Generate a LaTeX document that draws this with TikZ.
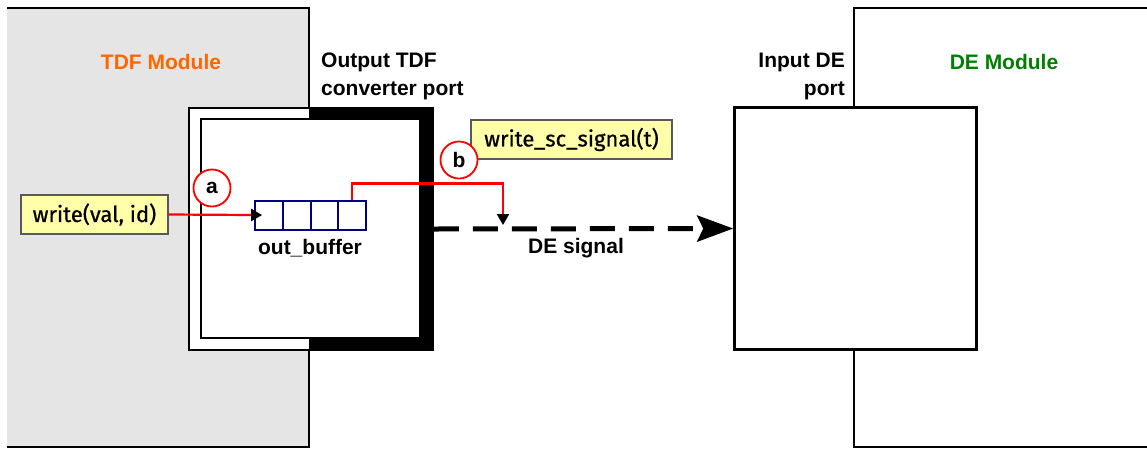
\documentclass[tikz,border=0pt]{standalone}
\usepackage{fontspec}
\setmainfont{Liberation Sans}
\newfontfamily\callfont[FakeBold=0.8]{Fira Sans}
\usetikzlibrary{arrows.meta,calc}
\definecolor{tdforange}{RGB}{255,102,0}
\definecolor{degreen}{RGB}{0,128,0}
\definecolor{bufblue}{RGB}{0,0,128}
\definecolor{callyellow}{RGB}{255,255,170}
\tikzset{
  ctrl/.style={draw=red, line width=2.2pt, -{Triangle[length=11pt,width=12pt,color=black]}},
  callbox/.style={draw=gray!70!black, fill=callyellow, line width=1.2pt, inner sep=0pt,
    font=\callfont\fontsize{22}{24}\selectfont},
  tag/.style={circle, draw=red, fill=white, line width=1.8pt, minimum size=37pt,
    inner sep=0pt, font=\bfseries\fontsize{21}{24}\selectfont},
  cell/.style={draw=bufblue, line width=2pt, minimum width=27.75pt, minimum height=29pt,
    inner sep=0pt},
  txt/.style={font=\bfseries\fontsize{21}{28}\selectfont, inner sep=0pt},
  sig/.style={line width=5pt, dash pattern=on 25pt off 14pt,
    -{Stealth[length=36pt,width=26pt,inset=6pt]}}
}

\begin{document}
\begin{tikzpicture}[x=1pt,y=-1pt]
  \useasboundingbox (0,0) rectangle (1147,448);
  \clip (0,0) rectangle (1147,448);
  % modules
  \node[fill=gray!20, minimum width=302pt, minimum height=439pt, inner sep=0pt]
    (tdfmod) at (158,227.5) {};
  \draw[line width=2.5pt] (tdfmod.north west) -| (tdfmod.south east) -- (tdfmod.south west);
  \node[draw, line width=2.5pt, minimum width=400pt, minimum height=439pt, inner sep=0pt]
    (demod) at (1054,227.5) {};
  \node[txt, text=tdforange] (tdfname) at (161,62) {TDF Module};
  \node[txt, text=degreen] (dename) at (1004,62) {DE Module};
  % output converter port: thin on the inside, thick black outside
  \node[draw, fill=white, line width=1.5pt, minimum width=244pt, minimum height=242pt]
    (outport) at (311,229) {};
  \fill (outport.north -| tdfmod.east) rectangle (outport.south east);
  \node[draw, fill=white, line width=1.5pt, minimum width=219pt, minimum height=219pt]
    (outin) at (310.5,228.5) {};
  \node[txt, anchor=west, align=left] (outname) at (321,76) {Output TDF\\converter port};
  % input DE port
  \node[draw, fill=white, line width=2.5pt, minimum width=242pt, minimum height=242pt]
    (inport) at (855.5,228.5) {};
  \node[txt, anchor=east, align=right] (inname) at (845,76) {Input DE\\port};
  % out_buffer
  \foreach \i in {0,...,3}
    \node[cell] (c\i) at ({269+27.75*\i},215) {};
  \node[txt] (bufname) at (310,248) {out\_buffer};
  % DE signal
  \draw[sig] (outport.east) -- (inport.west);
  \coordinate (tap) at (503,225);
  \node[txt] (signame) at (576,248) {DE signal};
  % calls
  \node[callbox, minimum width=147pt, minimum height=39pt] (wr) at (94.5,214.5) {write(val, id)};
  \node[callbox, minimum width=201pt, minimum height=39pt] (wrsc) at (571.5,139.5) {write\_sc\_signal(t)};
  \draw[ctrl, shorten >=-8pt] (wr.east) -- (c0.west);
  \draw[ctrl] (c3.north) -- ++(0,-16) -| (tap);
  \node[tag] (ta) at (212,188) {a};
  \node[tag] (tb) at (459,160) {b};
\end{tikzpicture}
\end{document}
